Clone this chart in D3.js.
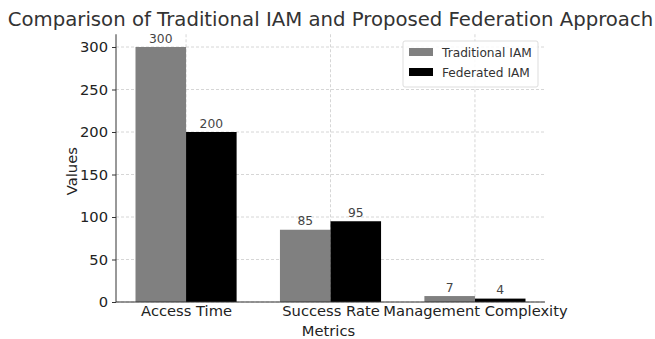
<!DOCTYPE html>
<html><head><meta charset="utf-8">
<script src="https://cdn.jsdelivr.net/npm/d3@7"></script>
<style>body{margin:0;background:#fff;} svg{display:block;font-family:"DejaVu Sans",sans-serif;}</style>
</head><body>
<svg id="c" width="655" height="339"></svg>
<script>
const categories = ["Access Time", "Success Rate", "Management Complexity"];
const seriesNames = ["Traditional IAM", "Federated IAM"];
const traditional = [300, 85, 7];
const federated = [200, 95, 4];
const yTicks = [0, 50, 100, 150, 200, 250, 300];
const colors = ["#808080", "#000000"];

const svg = d3.select("#c");
const L = 116, R = 545, T = 34.25, B = 302;
const x = d3.scaleLinear().domain([-0.485, 2.485]).range([L, R]);
const y = d3.scaleLinear().domain([0, 315]).range([B, T]);
const bw = 0.35;
const txt = "#333";
const fs = 14.7;

// grid
const g = svg.append("g");
g.selectAll("line.h").data(yTicks).join("line")
  .attr("x1", L).attr("x2", R).attr("y1", d => y(d)).attr("y2", d => y(d))
  .attr("stroke", "#ccc").attr("stroke-width", 0.8).attr("stroke-dasharray", "3,2");
g.selectAll("line.v").data(categories).join("line")
  .attr("x1", (d,i) => x(i)).attr("x2", (d,i) => x(i)).attr("y1", T).attr("y2", B)
  .attr("stroke", "#ccc").attr("stroke-width", 0.8).attr("stroke-dasharray", "3,2");

// bars
const series = [traditional, federated];
series.forEach((vals, s) => {
  const off = s === 0 ? -bw : 0;
  svg.append("g").selectAll("rect").data(vals).join("rect")
    .attr("x", (d,i) => x(i + off)).attr("width", x(bw) - x(0))
    .attr("y", d => y(d)).attr("height", d => B - y(d))
    .attr("fill", colors[s]);
  svg.append("g").selectAll("text").data(vals).join("text")
    .attr("x", (d,i) => x(i + off + bw/2)).attr("y", d => y(d) - 4.5)
    .attr("text-anchor", "middle").attr("font-size", 12.3).attr("fill", "#444")
    .text(d => d);
});

// axes
const ya = d3.axisLeft(y).tickValues(yTicks).tickSize(4).tickPadding(4);
const yg = svg.append("g").attr("transform", `translate(${L},0)`).call(ya);
yg.select(".domain").attr("d", `M0,${T}V${B}`).attr("stroke", txt);
yg.selectAll(".tick line").attr("stroke", txt);
yg.selectAll(".tick text").attr("font-size", fs).attr("fill", "#222").attr("font-family", "DejaVu Sans");

const xa = d3.axisBottom(x).tickValues([0,1,2]).tickFormat(i => categories[i]).tickSize(0).tickPadding(4);
const xg = svg.append("g").attr("transform", `translate(0,${B})`).call(xa);
xg.select(".domain").attr("d", `M${L},0H${R}`).attr("stroke", txt);
xg.selectAll(".tick text").attr("font-size", fs).attr("fill", "#222").attr("font-family", "DejaVu Sans");

// labels
svg.append("text").attr("x", (L+R)/2).attr("y", 25.5).attr("text-anchor", "middle")
  .attr("font-size", 19.7).attr("fill", txt).text("Comparison of Traditional IAM and Proposed Federation Approach");
svg.append("text").attr("x", (L+R)/2 - 2).attr("y", 336).attr("text-anchor", "middle")
  .attr("font-size", fs).attr("fill", "#222").text("Metrics");
svg.append("text").attr("transform", `translate(77,${(T+B)/2 + 3}) rotate(-90)`).attr("text-anchor", "middle")
  .attr("font-size", fs).attr("fill", "#222").text("Values");

// legend
const lg = svg.append("g").attr("transform", "translate(403,41)");
lg.append("rect").attr("width", 135).attr("height", 46).attr("rx", 2).attr("fill", "#fff")
  .attr("fill-opacity", 0.85).attr("stroke", "#ddd");
seriesNames.forEach((n, i) => {
  lg.append("rect").attr("x", 6).attr("y", 7 + i*20).attr("width", 24).attr("height", 8).attr("fill", colors[i]);
  lg.append("text").attr("x", 39).attr("y", 15.5 + i*20).attr("font-size", 12.2).attr("fill", txt).text(n);
});
</script>
</body></html>
